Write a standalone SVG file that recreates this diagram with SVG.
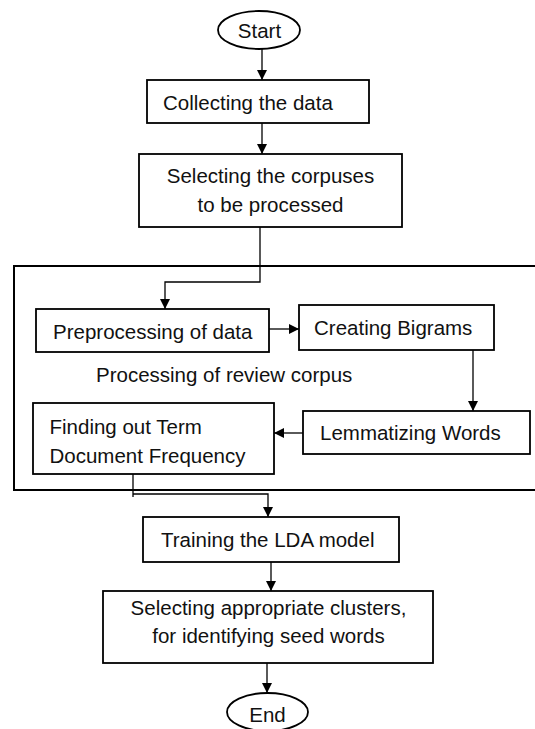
<svg xmlns="http://www.w3.org/2000/svg" width="535" height="729" viewBox="0 0 535 729">
<style>
.box{fill:#fff;stroke:#000;stroke-width:1.8}
.cont{fill:none;stroke:#000;stroke-width:2}
.ln{fill:none;stroke:#000;stroke-width:1.3}
text{font-family:"Liberation Sans",Arial,sans-serif;font-size:20.5px;fill:#111}
.c{text-anchor:middle}
</style>
<defs>
<marker id="ah" viewBox="0 0 10 10" refX="10" refY="5" markerWidth="10" markerHeight="10" markerUnits="userSpaceOnUse" orient="auto">
<path d="M0,0 L10,5 L0,10 z" fill="#000"/>
</marker>
</defs>
<rect id="container" class="cont" x="14" y="266" width="530" height="224"/>
<g id="connectors">
<line class="ln" x1="262" y1="49" x2="262" y2="80" marker-end="url(#ah)"/>
<line class="ln" x1="262" y1="123" x2="262" y2="154" marker-end="url(#ah)"/>
<polyline class="ln" points="260,227 260,282 165,282 165,309" marker-end="url(#ah)"/>
<line class="ln" x1="269" y1="329" x2="299" y2="329" marker-end="url(#ah)"/>
<line class="ln" x1="473" y1="350" x2="473" y2="411" marker-end="url(#ah)"/>
<line class="ln" x1="303" y1="433" x2="274" y2="433" marker-end="url(#ah)"/>
<line class="ln" x1="133" y1="474" x2="133" y2="497"/>
<polyline class="ln" points="133,494 268,494 268,517" marker-end="url(#ah)"/>
<line class="ln" x1="271" y1="562" x2="271" y2="591" marker-end="url(#ah)"/>
<line class="ln" x1="267" y1="663" x2="267" y2="693" marker-end="url(#ah)"/>
</g>
<g id="start">
<ellipse class="box" cx="259" cy="30" rx="41" ry="19"/>
<text class="c" x="259.5" y="37.5">Start</text>
</g>
<g id="collect">
<rect class="box" x="147" y="80" width="222" height="43"/>
<text x="163" y="110">Collecting the data</text>
</g>
<g id="select-corpus">
<rect class="box" x="139" y="154" width="263" height="73"/>
<text class="c" x="270.5" y="183">Selecting the corpuses</text>
<text class="c" x="270.5" y="212">to be processed</text>
</g>
<g id="preprocess">
<rect class="box" x="36" y="309" width="233" height="43"/>
<text x="53" y="339">Preprocessing of data</text>
</g>
<g id="bigrams">
<rect class="box" x="299" y="305" width="195" height="45"/>
<text x="314" y="335">Creating Bigrams</text>
</g>
<g id="label">
<text x="96" y="382">Processing of review corpus</text>
</g>
<g id="lemmatize">
<rect class="box" x="303" y="411" width="227" height="43"/>
<text x="320" y="440">Lemmatizing Words</text>
</g>
<g id="tdf">
<rect class="box" x="33" y="403" width="241" height="71"/>
<text x="49.5" y="434">Finding out Term</text>
<text x="49.5" y="463">Document Frequency</text>
</g>
<g id="train">
<rect class="box" x="143" y="517" width="256" height="45"/>
<text x="161" y="547">Training the LDA model</text>
</g>
<g id="clusters">
<rect class="box" x="103" y="591" width="330" height="72"/>
<text class="c" x="268.5" y="615">Selecting appropriate clusters,</text>
<text class="c" x="268.5" y="643">for identifying seed words</text>
</g>
<g id="end">
<ellipse class="box" cx="267.5" cy="712" rx="40.5" ry="19"/>
<text class="c" x="267.5" y="722">End</text>
</g>
</svg>
